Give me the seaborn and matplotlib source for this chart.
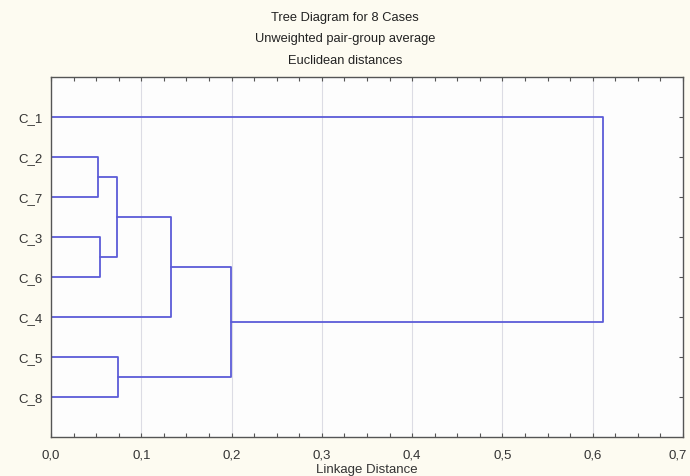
import numpy as np
import pandas as pd
import matplotlib
matplotlib.use("Agg")
import matplotlib.pyplot as plt
import seaborn as sns
from matplotlib.ticker import MultipleLocator, FuncFormatter

# ---- data ----
leaves = ["C_1", "C_2", "C_7", "C_3", "C_6", "C_4", "C_5", "C_8"]
merge_names = ["N1", "N2", "N3", "N4", "N5", "N6", "N7"]
merge_left = ["C_2", "C_3", "N1", "N3", "C_5", "N4", "C_1"]
merge_right = ["C_7", "C_6", "N2", "C_4", "C_8", "N5", "N6"]
merge_height = [0.052, 0.054, 0.073, 0.133, 0.074, 0.199, 0.611]
x_ticks = [0.0, 0.1, 0.2, 0.3, 0.4, 0.5, 0.6, 0.7]

title_lines = ["Tree Diagram for 8 Cases", "Unweighted pair-group average", "Euclidean distances"]
x_label = "Linkage Distance"

# ---- build segments ----
pos = {name: i + 1 for i, name in enumerate(leaves)}
height = {name: 0.0 for name in leaves}
rows = []
for k, (n, l, r, h) in enumerate(zip(merge_names, merge_left, merge_right, merge_height)):
    pts = [(height[l], pos[l]), (h, pos[l]), (h, pos[r]), (height[r], pos[r])]
    for j, (x, y) in enumerate(pts):
        rows.append({"x": x, "y": y, "seg": k, "order": j})
    pos[n] = (pos[l] + pos[r]) / 2
    height[n] = h
df = pd.DataFrame(rows)

# ---- style ----
sns.set_theme(style="white")
plt.rcParams["font.family"] = ["Liberation Sans", "DejaVu Sans"]

fig = plt.figure(figsize=(6.9, 4.77), dpi=100, facecolor="#fdfbf1")
ax = fig.add_axes([51 / 690, 1 - 438 / 477, 632 / 690, 360 / 477])
ax.set_facecolor("#fdfdfd")

for xv in x_ticks[1:-1]:
    ax.axvline(xv, color="#dcdce4", lw=0.8, zorder=0)

sns.lineplot(data=df, x="x", y="y", units="seg", estimator=None, sort=False,
             color="#5c5cd8", lw=1.3, legend=False, ax=ax)

ax.set_xlim(0, 0.7)
ax.set_ylim(9, 0)
ax.set_yticks(range(1, len(leaves) + 1))
ax.set_yticklabels(leaves)
ax.xaxis.set_major_locator(MultipleLocator(0.1))
ax.xaxis.set_minor_locator(MultipleLocator(0.025))


def fmt(v, p):
    if abs(v - x_ticks[-1]) < 1e-9:
        return ""
    return f"{v:.1f}".replace(".", ",")


ax.xaxis.set_major_formatter(FuncFormatter(fmt))

ax.tick_params(axis="x", which="both", direction="in", top=True, bottom=True,
               length=3, width=0.8, color="#555555", labelsize=9.5, pad=8,
               labelcolor="#333333")
ax.tick_params(axis="y", which="both", direction="in", left=False, right=True,
               length=3, width=0.8, color="#555555", labelsize=9.5, pad=6,
               labelcolor="#333333")
for s in ax.spines.values():
    s.set_color("#555555")
    s.set_linewidth(1.0)

# last tick label nudged in so it stays inside the figure
ax.annotate(f"{x_ticks[-1]:.1f}".replace(".", ","), xy=(x_ticks[-1], 0),
            xycoords=("data", "axes fraction"), xytext=(-4, -8.5),
            textcoords="offset points", ha="center", va="top",
            fontsize=9.5, color="#333333")

ax.set_xlabel(x_label, fontsize=9.5, color="#333333", labelpad=2)
ax.set_ylabel("")

for i, t in enumerate(title_lines):
    fig.text(345 / 690, 1 - (18 + i * 21.5) / 477, t, ha="center", va="center",
             fontsize=9.3, color="#222222")

fig.savefig("out.png", dpi=100, facecolor=fig.get_facecolor())
